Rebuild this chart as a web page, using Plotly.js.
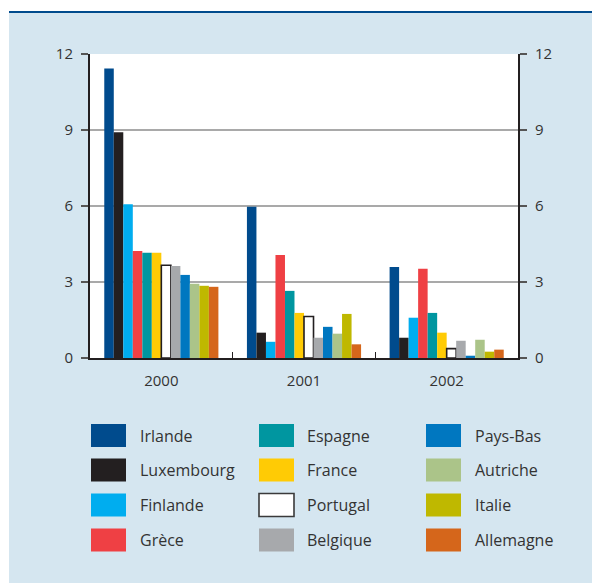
<!DOCTYPE html>
<html>
<head>
<meta charset="utf-8">
<script src="https://cdn.plot.ly/plotly-3.0.1.min.js"></script>
<style>
  html, body { margin: 0; padding: 0; background: #ffffff; }
  #chart { width: 592px; height: 583px; }
</style>
</head>
<body>
<div id="chart"></div>
<script>
// Years on the category axis
const years = ['2000', '2001', '2002'];

// One series per country, values by year
const countries = ['Irlande', 'Luxembourg', 'Finlande', 'Grèce', 'Espagne', 'France',
                   'Portugal', 'Belgique', 'Pays-Bas', 'Autriche', 'Italie', 'Allemagne'];
const irlande    = [11.43, 5.97, 3.59];
const luxembourg = [8.91, 1.00, 0.80];
const finlande   = [6.07, 0.64, 1.59];
const grece      = [4.22, 4.07, 3.52];
const espagne    = [4.15, 2.65, 1.78];
const france     = [4.15, 1.78, 1.00];
const portugal   = [3.66, 1.64, 0.37];
const belgique   = [3.63, 0.80, 0.68];
const paysBas    = [3.28, 1.23, 0.09];
const autriche   = [2.93, 0.96, 0.72];
const italie     = [2.85, 1.74, 0.25];
const allemagne  = [2.81, 0.54, 0.33];
const values = [irlande, luxembourg, finlande, grece, espagne, france,
                portugal, belgique, paysBas, autriche, italie, allemagne];

const colors = ['#004b8d', '#231f20', '#00adef', '#ef4044', '#0096a0', '#ffcb05',
                '#ffffff', '#a7a9ac', '#0077c0', '#abc489', '#bfb800', '#d5661b'];

const yTicks = [0, 3, 6, 9, 12];

// Plot area in pixels (used to place the legend and the frame decorations)
const W = 592, H = 583;
const M = { l: 90, r: 74, t: 54, b: 225 };
const pw = W - M.l - M.r, ph = H - M.t - M.b;
const px = x => (x - M.l) / pw;
const py = y => (H - M.b - y) / ph;

const ink = '#231f20';
const textCol = '#333333';

const traces = countries.map((name, i) => ({
  type: 'bar',
  name: name,
  x: years,
  y: values[i],
  marker: {
    color: colors[i],
    line: { color: ink, width: name === 'Portugal' ? 1.6 : 0 }
  },
  showlegend: false,
  hovertemplate: name + ' %{x}: %{y}<extra></extra>'
}));

// Empty companion trace so the right-hand axis is laid out
traces.push({
  type: 'scatter', mode: 'lines', x: years, y: [null, null, null],
  yaxis: 'y2', showlegend: false, hoverinfo: 'skip'
});

// Legend: three columns of four swatches with labels
const shapes = [
  // white margins outside the tinted panel
  { type: 'rect', xref: 'paper', yref: 'paper', layer: 'below',
    x0: px(-5), x1: px(9), y0: py(-5), y1: py(H + 5),
    fillcolor: '#ffffff', line: { width: 0 } },
  { type: 'rect', xref: 'paper', yref: 'paper', layer: 'below',
    x0: px(-5), x1: px(W + 5), y0: py(-5), y1: py(11),
    fillcolor: '#ffffff', line: { width: 0 } },
  // dark blue rule across the top
  { type: 'line', xref: 'paper', yref: 'paper', layer: 'below',
    x0: px(9), x1: px(W + 5), y0: py(12), y1: py(12),
    line: { color: '#004b8d', width: 2 } }
];
const annotations = [];
const colSwatchX = [91, 259, 426];
const colTextX = [138, 305, 473];
const rowY = [435.5, 470, 505, 540];
countries.forEach((name, i) => {
  const c = Math.floor(i / 4), r = i % 4;
  const isPortugal = name === 'Portugal';
  shapes.push({
    type: 'rect', xref: 'paper', yref: 'paper',
    x0: px(colSwatchX[c]), x1: px(colSwatchX[c] + 35),
    y0: py(rowY[r] - 11.5), y1: py(rowY[r] + 11.5),
    fillcolor: colors[i],
    line: { color: isPortugal ? '#3a3a3a' : colors[i], width: isPortugal ? 1.6 : 0 }
  });
  annotations.push({
    xref: 'paper', yref: 'paper',
    x: px(colTextX[c]), y: py(rowY[r]),
    xanchor: 'left', yanchor: 'middle',
    text: name, showarrow: false,
    font: { family: 'Open Sans, sans-serif', size: 16, color: textCol }
  });
});

const yAxisCommon = {
  range: [0, 12],
  tickvals: yTicks,
  ticktext: yTicks.map(String),
  ticks: 'outside',
  ticklen: 7,
  tickwidth: 1.5,
  tickcolor: '#555555',
  ticklabelstandoff: 5,
  showline: true,
  linecolor: ink,
  linewidth: 2,
  zeroline: false,
  fixedrange: true,
  tickfont: { family: 'Open Sans, sans-serif', size: 15, color: textCol }
};

const layout = {
  width: W,
  height: H,
  margin: M,
  paper_bgcolor: '#d5e6f0',
  plot_bgcolor: '#ffffff',
  barmode: 'group',
  bargap: 0.2,
  bargroupgap: 0,
  showlegend: false,
  xaxis: {
    type: 'category',
    tickson: 'boundaries',
    ticks: 'inside',
    ticklen: 6,
    tickwidth: 1.5,
    tickcolor: ink,
    showline: true,
    linecolor: ink,
    linewidth: 2,
    showgrid: false,
    ticklabelstandoff: 8,
    fixedrange: true,
    tickfont: { family: 'Open Sans, sans-serif', size: 15, color: textCol }
  },
  yaxis: Object.assign({}, yAxisCommon, {
    side: 'left',
    showgrid: true,
    gridcolor: '#a9a9a9',
    gridwidth: 1.6
  }),
  yaxis2: Object.assign({}, yAxisCommon, {
    side: 'right',
    overlaying: 'y',
    showgrid: false
  }),
  shapes: shapes,
  annotations: annotations
};

Plotly.newPlot('chart', traces, layout, { displayModeBar: false, staticPlot: true });
</script>
</body>
</html>
